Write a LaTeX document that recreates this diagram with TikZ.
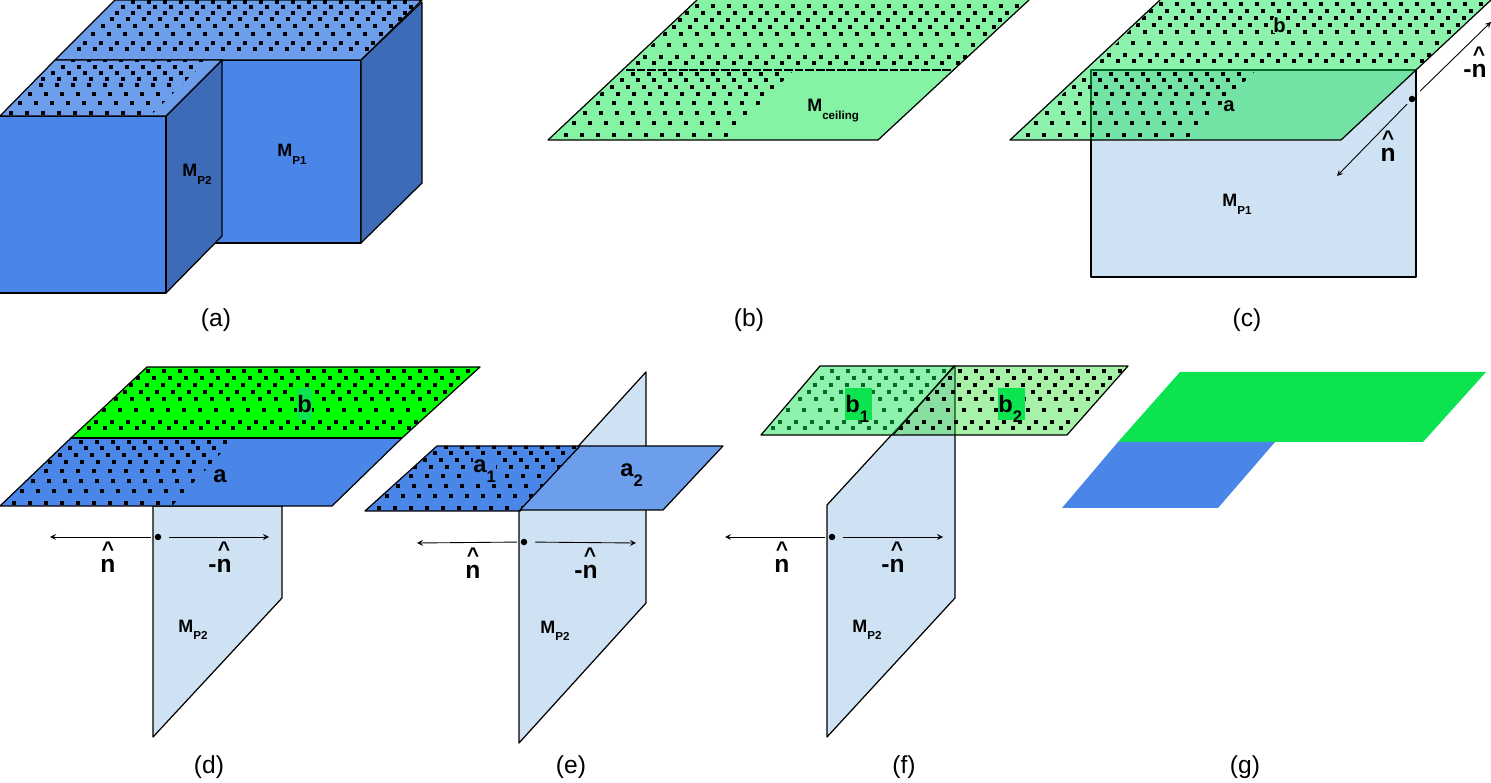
\documentclass[tikz,border=0pt]{standalone}
\usepackage{fontspec}
\setmainfont{Liberation Sans}
\definecolor{boxblue}{HTML}{4A86E8}
\definecolor{sideblue}{HTML}{3D6BB8}
\definecolor{topblue}{HTML}{6D9EEB}
\definecolor{wallblue}{HTML}{CFE2F3}
\definecolor{roofgreen}{HTML}{0BE34F}
\definecolor{palegreen}{HTML}{84F4A4}
\definecolor{limegreen}{HTML}{0BD810}
\newcommand{\nhat}{\ooalign{\hfil\raisebox{9.3pt}{\fontsize{12}{14}\selectfont\textasciicircum}\hfil\cr n\cr}}
\newcommand{\msub}[1]{\raisebox{-4pt}{\fontsize{6.6}{8}\selectfont #1}}
\newcommand{\psub}[1]{\raisebox{-5.5pt}{\fontsize{9.5}{11}\selectfont #1}}
\def\lowrows{5/18,17/26,27/37,37/50,46/54,53/64,60/74,66/85}
\def\uprows{7/12,13/19,25/27,36/39,43/48,50/54,57/61,64/71}
\def\cubelow{3/11,13/20,22/30,31/41,37/43,43/53,49/63,56/73}
\def\cubeup{11/24,17/30,26/38,34/48,41/57,47/62,53/68,58/78}
% #1 clip path, #2 origin, #3 rows
\newcommand{\dotfield}[3]{
  \begin{scope}
    \clip #1;
    \begin{scope}[shift={#2}]
      \foreach \dy/\dx in #3 {
        \foreach \k in {0,...,24} {
          \fill (\dx+16*\k-1.8,-\dy-1.8) rectangle ++(3.6,3.6);
        }
      }
    \end{scope}
  \end{scope}
}
\tikzset{
  face/.style={draw=black,line width=0.7pt,line join=round},
  vec/.style={->,>=stealth,line width=0.5pt},
  backvec/.style={vec,shorten <=0.08cm},
  dotmark/.style={circle,fill=black,minimum size=0.13cm,inner sep=0pt,outer sep=0.08cm},
  caption/.style={anchor=base,font=\fontsize{14}{16}\selectfont},
  mlabel/.style={anchor=base west,inner sep=0pt,font=\fontsize{10.2}{12}\selectfont\bfseries},
  plabel/.style={anchor=base west,inner sep=0pt,font=\fontsize{13.5}{16}\selectfont\bfseries},
  clabel/.style={anchor=base west,inner sep=0pt,font=\fontsize{11.5}{14}\selectfont\bfseries},
  hatlabel/.style={anchor=base,inner sep=0pt,font=\fontsize{14}{16}\selectfont\bfseries},
  greenpatch/.style={fill=roofgreen,text height=14pt,text depth=4pt}
}
\begin{document}
\begin{tikzpicture}[x=0.02cm,y=-0.02cm]
  \useasboundingbox (0,0) rectangle (1491,783);
  % (a)
  \filldraw[face,fill=boxblue] (215,60) rectangle (361,243);
  \filldraw[face,fill=sideblue] (361,60) -- (422,2) -- (422,183) -- (361,243) -- cycle;
  \filldraw[face,fill=topblue] (55,60) -- (115,0) -- (422,0) -- (361,60) -- cycle;
  \dotfield{(55,60) -- (361,60) -- (422,0) -- (115,0) -- cycle}{(55,60)}{\cubeup}
  \filldraw[face,fill=sideblue] (166,116) -- (222,60) -- (222,236) -- (166,293) -- cycle;
  \filldraw[face,fill=boxblue] (-1,116) rectangle (166,293);
  \filldraw[face,fill=topblue] (0,116) -- (55,60) -- (222,60) -- (166,116) -- cycle;
  \dotfield{(0,116) -- (150,116) -- (207,60) -- (55,60) -- cycle}{(0,116)}{\cubelow}
  \node[mlabel] (ma1) at (277,157) {M\msub{P1}};
  \node[mlabel] (ma2) at (182,177) {M\msub{P2}};
  \node[caption] (capa) at (216,327) {(a)};
  % (b)
  \fill[palegreen] (548,140) -- (878,140) -- (1029,0) -- (697,0) -- cycle;
  \dotfield{(626,70) -- (953,70) -- (1029,0) -- (697,0) -- cycle}{(626,70)}{\uprows}
  \dotfield{(548,140) -- (724,140) -- (794,70) -- (626,70) -- cycle}{(548,140)}{\lowrows}
  \draw[line width=0.6pt,dashed,dash pattern=on 5pt off 1pt] (626,70) -- (953,70);
  \draw[face] (697,0) -- (548,140) -- (878,140) -- (1029,0);
  \node[mlabel] (mb) at (807,112) {M\msub{ceiling}};
  \node[caption] (capb) at (749,327) {(b)};
  % (c)
  \filldraw[face,fill=wallblue] (1091,70) rectangle (1416,277);
  \fill[roofgreen,opacity=0.47] (1010,140) -- (1341,140) -- (1491,0) -- (1160,0) -- cycle;
  \dotfield{(1090,70) -- (1416,70) -- (1491,0) -- (1160,0) -- cycle}{(1090,68)}{\uprows}
  \dotfield{(1010,140) -- (1186,140) -- (1256,70) -- (1090,70) -- cycle}{(1010,140)}{\lowrows}
  \draw[face] (1160,0) -- (1010,140) -- (1341,140) -- (1491,0);
  \node[clabel,fill=palegreen] (bc) at (1273,33) {b};
  \node[clabel] (ac) at (1223,112) {a};
  \node[mlabel] (mc) at (1222,207) {M\msub{P1}};
  \node[dotmark] (dotc) at (1412,99) {};
  \coordinate (nc) at (1337,176);
  \coordinate (mnc) at (1491,22);
  \draw[vec] (dotc) -- (nc);
  \draw[backvec] (dotc) -- (mnc);
  \node[hatlabel] (hatc) at (1388,162) {\nhat};
  \node[hatlabel] (mhatc) at (1475,78) {-\nhat};
  \node[caption] (capc) at (1247,327) {(c)};
  % (d)
  \filldraw[face,fill=wallblue] (153,506) -- (282,506) -- (282,598) -- (153,737) -- cycle;
  \filldraw[face,fill=green] (71,438) -- (402,438) -- (480,367) -- (147,367) -- cycle;
  \dotfield{(71,438) -- (402,438) -- (480,367) -- (147,367) -- cycle}{(77,435)}{\uprows}
  \filldraw[face,fill=boxblue] (0,506) -- (332,506) -- (402,438) -- (71,438) -- cycle;
  \dotfield{(0,506) -- (172,506) -- (234,439) -- (71,439) -- cycle}{(-4,508)}{\lowrows}
  \draw[line width=1pt] (71,438) -- (402,438);
  \node[plabel,greenpatch] (bd) at (297,413) {b};
  \node[plabel] (ad) at (213,483) {a};
  \node[mlabel] (md) at (178,632) {M\msub{P2}};
  \node[dotmark] (dotd) at (158,537) {};
  \coordinate (nd) at (50,537);
  \coordinate (mnd) at (269,537);
  \draw[vec] (dotd) -- (nd);
  \draw[backvec] (dotd) -- (mnd);
  \node[hatlabel] (hatd) at (108,573) {\nhat};
  \node[hatlabel] (mhatd) at (220,573) {-\nhat};
  \node[caption] (capd) at (209,773) {(d)};
  % (e)
  \filldraw[face,fill=wallblue] (519,511) -- (646,372) -- (646,603) -- (519,743) -- cycle;
  \filldraw[face,fill=boxblue] (365,511) -- (520,511) -- (580,446) -- (437,446) -- cycle;
  \dotfield{(365,511) -- (520,511) -- (580,446) -- (437,446) -- cycle}{(361,513)}{\lowrows}
  \filldraw[face,fill=topblue] (520,510) -- (663,510) -- (723,446) -- (580,446) -- cycle;
  \node[plabel,fill=boxblue,text height=9pt,text depth=5.7pt] (a1e) at (473,473) {a\psub{1}};
  \node[plabel] (a2e) at (620,477) {a\psub{2}};
  \node[mlabel] (me) at (540,633) {M\msub{P2}};
  \node[dotmark] (dote) at (524,542) {};
  \coordinate (ne) at (417,543);
  \coordinate (mne) at (636,543);
  \draw[vec] (dote) -- (ne);
  \draw[backvec] (dote) -- (mne);
  \node[hatlabel] (hate) at (473,579) {\nhat};
  \node[hatlabel] (mhate) at (586,579) {-\nhat};
  \node[caption] (cape) at (571,773) {(e)};
  % (f)
  \filldraw[face,fill=wallblue] (827,505) -- (955,366) -- (955,598) -- (827,737) -- cycle;
  \fill[limegreen,opacity=0.36] (893,435) -- (1067,435) -- (1128,366) -- (954,366) -- cycle;
  \dotfield{(761,435) -- (1067,435) -- (1128,366) -- (820,366) -- cycle}{(761,435)}{\uprows}
  \fill[roofgreen,opacity=0.47] (761,435) -- (893,435) -- (954,366) -- (820,366) -- cycle;
  \draw[face] (761,435) -- (1067,435) -- (1128,366) -- (820,366) -- cycle;
  \draw[face] (893,435) -- (954,366);
  \node[plabel,greenpatch,text width=15pt] (b1f) at (845,413) {b\psub{1}};
  \node[plabel,greenpatch,text width=15pt] (b2f) at (998,413) {b\psub{2}};
  \node[mlabel] (mf) at (852,632) {M\msub{P2}};
  \node[dotmark] (dotf) at (832,537) {};
  \coordinate (nf) at (725,537);
  \coordinate (mnf) at (943,537);
  \draw[vec] (dotf) -- (nf);
  \draw[backvec] (dotf) -- (mnf);
  \node[hatlabel] (hatf) at (782,573) {\nhat};
  \node[hatlabel] (mhatf) at (893,573) {-\nhat};
  \node[caption] (capf) at (904,773) {(f)};
  % (g)
  \fill[roofgreen] (1118,442) -- (1423,442) -- (1486,372) -- (1180,372) -- cycle;
  \fill[boxblue] (1062,508) -- (1218,508) -- (1275,442) -- (1118,442) -- cycle;
  \node[caption] (capg) at (1245,773) {(g)};
\end{tikzpicture}
\end{document}
